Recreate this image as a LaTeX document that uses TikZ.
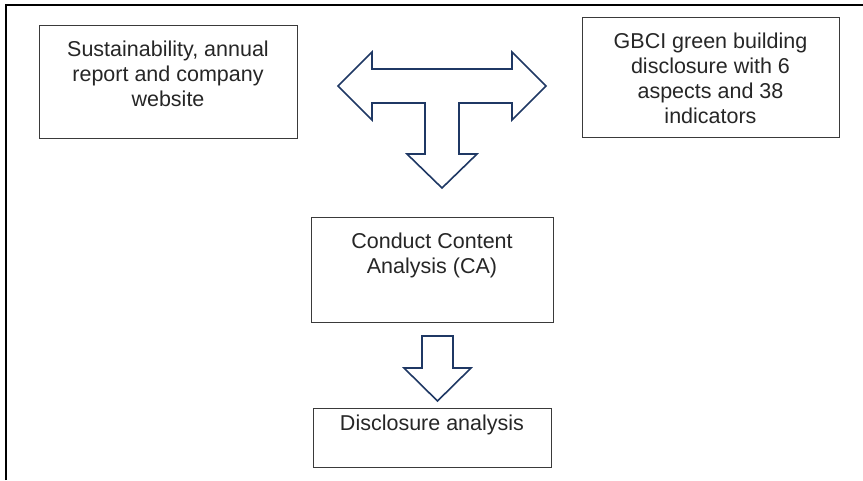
\documentclass[tikz,border=0pt]{standalone}
\usepackage{fontspec}
\setmainfont{Liberation Sans}
\definecolor{navy}{HTML}{1F3864}
\definecolor{boxgray}{HTML}{3A3A3A}
\definecolor{txtgray}{HTML}{262626}
\begin{document}
\begin{tikzpicture}[x=1pt,y=-1pt,
  box/.style={draw=boxgray, line width=1pt, rectangle, inner sep=0pt, anchor=north west},
  txt/.style={anchor=north, inner sep=0pt, align=center, text=txtgray,
    font=\fontsize{21.5pt}{25pt}\selectfont},
  bigarrow/.style={draw=navy, fill=white, line width=1.6pt, line join=miter}]
\useasboundingbox (0,0) rectangle (863,480);
% frame (left and top edges)
\draw[line width=2pt, black] (5.5,480) -- (5.5,4.5) -- (863,4.5);
% boxes
\node[box, minimum width=258pt, minimum height=113pt] (b1) at (39,25) {};
\node[txt] (t1) at (168,41) {Sustainability, annual\\report and company\\website};
\node[box, minimum width=257pt, minimum height=120pt] (b2) at (582,17) {};
\node[txt] (t2) at (710.5,33) {GBCI green building\\disclosure with 6\\aspects and 38\\indicators};
\node[box, minimum width=242pt, minimum height=105pt] (b3) at (311,217) {};
\node[txt] (t3) at (432,233) {Conduct Content\\Analysis (CA)};
\node[box, minimum width=238pt, minimum height=59pt] (b4) at (313,408) {};
\node[txt] (t4) at (432,415) {Disclosure analysis};
% T-shaped block arrow
\draw[bigarrow] (338,86) -- (372,52) -- (372,69) -- (512,69) -- (512,52) -- (546,86)
  -- (512,120) -- (512,103) -- (459,103) -- (459,154) -- (477,154) -- (442,188)
  -- (407,154) -- (425,154) -- (425,103) -- (372,103) -- (372,120) -- cycle;
% down block arrow
\draw[bigarrow] (422,336) -- (453,336) -- (453,368) -- (471,368) -- (437.5,401)
  -- (404,368) -- (422,368) -- cycle;
\end{tikzpicture}
\end{document}
